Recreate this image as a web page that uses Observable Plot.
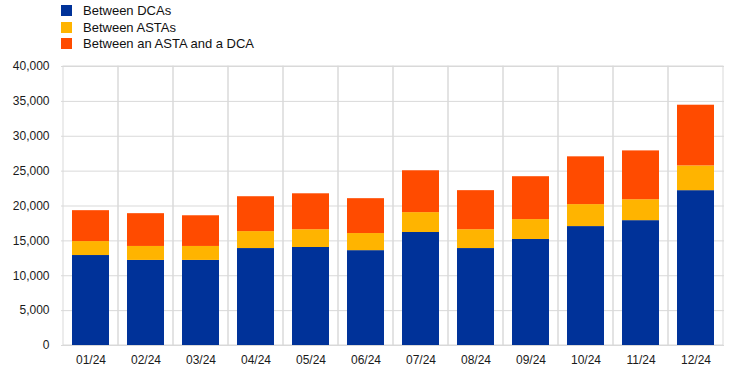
<!DOCTYPE html>
<html>
<head>
<meta charset="utf-8">
<script src="https://cdn.jsdelivr.net/npm/d3@7"></script>
<script src="https://cdn.jsdelivr.net/npm/@observablehq/plot@0.6"></script>
<style>
  body { margin: 0; background: #fff; font-family: "Liberation Sans", Arial, sans-serif; }
  #wrap { width: 745px; height: 373px; position: relative; overflow: hidden; }
  #legend { height: 56px; position: relative; }
  .item { position: absolute; left: 61px; height: 12px; display: flex; align-items: center; font-size: 13px; color: #111; }
  .sw { width: 11px; height: 11px; margin-right: 11px; }
  svg { display: block; }
</style>
</head>
<body>
<div id="wrap">
  <div id="legend"></div>
  <div id="chart"></div>
</div>
<script>
const months = ["01/24","02/24","03/24","04/24","05/24","06/24","07/24","08/24","09/24","10/24","11/24","12/24"];
const seriesNames = ["Between DCAs", "Between ASTAs", "Between an ASTA and a DCA"];
const seriesColors = ["#003299", "#FFB400", "#FF4B00"];
const betweenDCAs = [12900, 12200, 12200, 13900, 14050, 13600, 16200, 13900, 15200, 17050, 17900, 22200];
const betweenASTAs = [2000, 2000, 2000, 2430, 2550, 2450, 2850, 2700, 2850, 3150, 3000, 3550];
const betweenMixed = [4430, 4700, 4400, 5000, 5150, 5000, 6000, 5600, 6150, 6850, 7000, 8700];
const yTicks = [0, 5000, 10000, 15000, 20000, 25000, 30000, 35000, 40000];

const seriesValues = [betweenDCAs, betweenASTAs, betweenMixed];
const data = [];
months.forEach((m, i) => {
  seriesNames.forEach((s, j) => data.push({month: m, series: s, value: seriesValues[j][i]}));
});

// legend
const legend = document.getElementById("legend");
seriesNames.forEach((s, j) => {
  const div = document.createElement("div");
  div.className = "item";
  div.style.top = (4.5 + j * 16.7) + "px";
  div.innerHTML = `<span class="sw" style="background:${seriesColors[j]}"></span><span>${s}</span>`;
  legend.appendChild(div);
});

const grid = "#d9d9d9";
const chart = Plot.plot({
  width: 745,
  height: 317,
  marginTop: 10,
  marginBottom: 28,
  marginLeft: 61,
  marginRight: 21,
  style: {fontFamily: "Liberation Sans, Arial, sans-serif", fontSize: "12px", color: "#1a1a1a", background: "#fff"},
  x: {domain: months, padding: 0, label: null},
  y: {domain: [0, 40000], label: null},
  color: {domain: seriesNames, range: seriesColors},
  marks: [
    Plot.gridY(yTicks, {stroke: grid, strokeOpacity: 1}),
    Plot.barY(months, {x: d => d, y1: 0, y2: 40000, fill: "none", stroke: grid, strokeOpacity: 1}),
    Plot.barY(data, {x: "month", y: "value", fill: "series", insetLeft: 9, insetRight: 9}),
    Plot.axisY(yTicks, {tickFormat: d3.format(","), tickSize: 0, tickPadding: 12, fontSize: 12, label: null}),
    Plot.axisX({tickSize: 0, tickPadding: 10, fontSize: 12, label: null})
  ]
});
document.getElementById("chart").appendChild(chart);
</script>
</body>
</html>
